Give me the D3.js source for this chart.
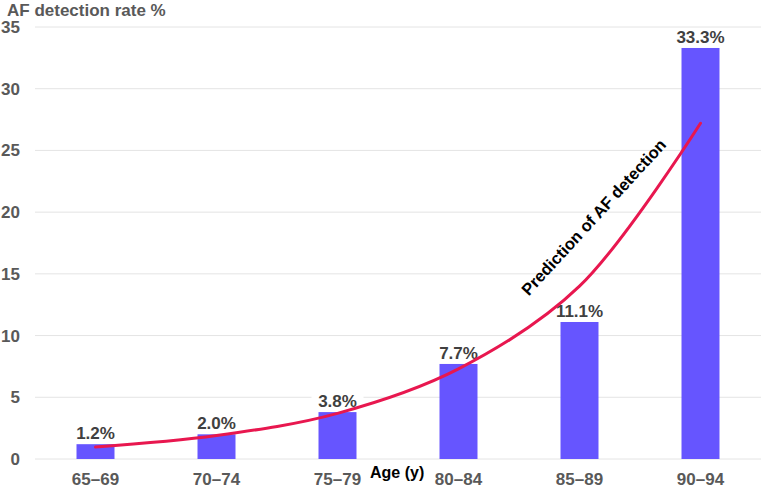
<!DOCTYPE html>
<html>
<head>
    <meta charset="UTF-8">
    <title>AF detection rate by age</title>
    <script type="text/javascript" src="https://d3js.org/d3.v7.min.js"></script>
    <style>
        body { margin: 0; background: #fff; overflow: hidden; }
        svg { display: block; }
        text { font-family: "Liberation Sans", Arial, sans-serif; font-weight: bold; }
        .tick-label { fill: #595959; font-size: 17px; }
        .bar-label { fill: #404040; font-size: 17px; }
    </style>
</head>
<body>
<div id="chart"></div>

<script>
    var ageGroups = ["65–69", "70–74", "75–79", "80–84", "85–89", "90–94"];
    var detectionRate = [1.2, 2.0, 3.8, 7.7, 11.1, 33.3];
    // prediction curve at each group centre
    var predicted = [0.97, 1.9, 3.7, 7.3, 14.0, 27.2];
    var yTicks = [0, 5, 10, 15, 20, 25, 30, 35];

    var width = 762, height = 488;
    var plotLeft = 35, plotRight = 761, plotTop = 27, plotBottom = 459;

    var svg = d3.select("#chart").append("svg")
        .attr("width", width).attr("height", height);

    var x = d3.scaleBand().domain(ageGroups).range([plotLeft, plotRight])
        .paddingInner(0.686).paddingOuter(0.343);
    var y = d3.scaleLinear().domain([0, 35]).range([plotBottom, plotTop]);

    // gridlines
    svg.selectAll(".grid").data(yTicks).enter().append("line")
        .attr("class", "grid")
        .attr("x1", plotLeft).attr("x2", plotRight)
        .attr("y1", function (d) { return y(d); })
        .attr("y2", function (d) { return y(d); })
        .style("stroke", "#e4e4e4").style("stroke-width", 1);

    // y tick labels
    svg.selectAll(".ytick").data(yTicks).enter().append("text")
        .attr("class", "tick-label")
        .attr("x", 20).attr("y", function (d) { return y(d) + 6; })
        .attr("text-anchor", "end")
        .text(function (d) { return d; });

    // x tick labels
    svg.selectAll(".xtick").data(ageGroups).enter().append("text")
        .attr("class", "tick-label")
        .attr("x", function (d) { return x(d) + x.bandwidth() / 2; })
        .attr("y", 485)
        .attr("text-anchor", "middle")
        .text(function (d) { return d; });

    svg.append("text").attr("class", "tick-label")
        .attr("x", 7).attr("y", 16)
        .text("AF detection rate %");

    svg.append("text")
        .attr("x", 370).attr("y", 478)
        .style("font-size", "16px").style("fill", "#000")
        .text("Age (y)");

    // bars
    svg.selectAll(".bar").data(detectionRate).enter().append("rect")
        .attr("class", "bar")
        .attr("x", function (d, i) { return x(ageGroups[i]); })
        .attr("width", x.bandwidth())
        .attr("y", function (d) { return y(d); })
        .attr("height", function (d) { return y(0) - y(d); })
        .style("fill", "#6655ff");

    // bar value labels with white backing
    var lab = svg.selectAll(".lab").data(detectionRate).enter().append("g")
        .attr("transform", function (d, i) {
            return "translate(" + (x(ageGroups[i]) + x.bandwidth() / 2) + "," + (y(d) - 5) + ")";
        });
    lab.append("rect")
        .attr("x", -26).attr("y", -15).attr("width", 52).attr("height", 17)
        .style("fill", "#fff");
    lab.append("text").attr("class", "bar-label")
        .attr("text-anchor", "middle")
        .text(function (d) { return d.toFixed(1) + "%"; });

    // prediction curve
    var line = d3.line()
        .x(function (d, i) { return x(ageGroups[i]) + x.bandwidth() / 2; })
        .y(function (d) { return y(d); })
        .curve(d3.curveCatmullRom.alpha(0.5));

    svg.append("path").datum(predicted)
        .attr("d", line)
        .style("fill", "none")
        .style("stroke", "#e8174f")
        .style("stroke-width", 3)
        .style("stroke-linecap", "round");

    svg.append("text")
        .attr("transform", "translate(598,221) rotate(-47.5)")
        .attr("text-anchor", "middle")
        .style("font-size", "16.5px").style("fill", "#000")
        .text("Prediction of AF detection");
</script>
</body>
</html>
